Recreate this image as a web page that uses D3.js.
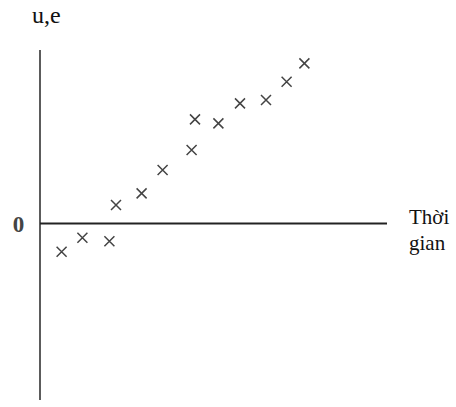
<!DOCTYPE html>
<html><head><meta charset="utf-8">
<script src="https://cdn.jsdelivr.net/npm/d3@7"></script>
<style>body{margin:0;background:#fff}svg{display:block}</style>
</head><body>
<script>
const times = [1.08, 2.12, 3.47, 3.8, 5.08, 6.13, 7.58, 7.75, 8.92, 10.0, 11.3, 12.33, 13.22];
const values = [-1.42, -0.72, -0.89, 0.92, 1.5, 2.67, 3.67, 5.2, 5.0, 6.0, 6.17, 7.08, 8.0];
const yTickLabels = ["0"];
const yTickValues = [0];
const yAxisLabel = "u,e";
const xAxisLabel = ["Thời", "gian"];

const W = 456, H = 407;
const svg = d3.select("body").append("svg").attr("width", W).attr("height", H);
const x = d3.scaleLinear().domain([0, 17.35]).range([40, 387]);
const y = d3.scaleLinear().domain([-8.83, 8.67]).range([400, 50]);
const font = "'Liberation Serif','Times New Roman',serif";

// vertical axis
svg.append("line").attr("x1", x(0)).attr("x2", x(0)).attr("y1", y(8.67)).attr("y2", y(-8.83))
  .attr("stroke", "#333").attr("stroke-width", 1.6);
// horizontal axis
svg.append("line").attr("x1", x(0)).attr("x2", x(17.35)).attr("y1", y(0)).attr("y2", y(0))
  .attr("stroke", "#222").attr("stroke-width", 2);

// tick label 0
svg.selectAll("text.yt").data(yTickValues).enter().append("text")
  .attr("x", 18.5).attr("y", d => y(d) + 9).attr("text-anchor", "middle")
  .attr("font-family", font).attr("font-size", 23).attr("font-weight", "bold").attr("fill", "#444")
  .text((d, i) => yTickLabels[i]);

svg.append("text").attr("x", 32).attr("y", 23).attr("font-family", font).attr("font-size", 24)
  .attr("fill", "#111").text(yAxisLabel);

svg.selectAll("text.xl").data(xAxisLabel).enter().append("text")
  .attr("x", 409).attr("y", (d, i) => 224 + i * 26)
  .attr("font-family", font).attr("font-size", 21).attr("fill", "#111").text(d => d);

// markers
const s = 5;
const g = svg.selectAll("g.pt").data(times.map((t, i) => [t, values[i]])).enter().append("g")
  .attr("transform", d => `translate(${x(d[0])},${y(d[1])})`);
g.append("path").attr("d", `M${-s},${-s}L${s},${s}M${-s},${s}L${s},${-s}`)
  .attr("stroke", "#444").attr("stroke-width", 1.5).attr("fill", "none");
</script>
</body></html>
